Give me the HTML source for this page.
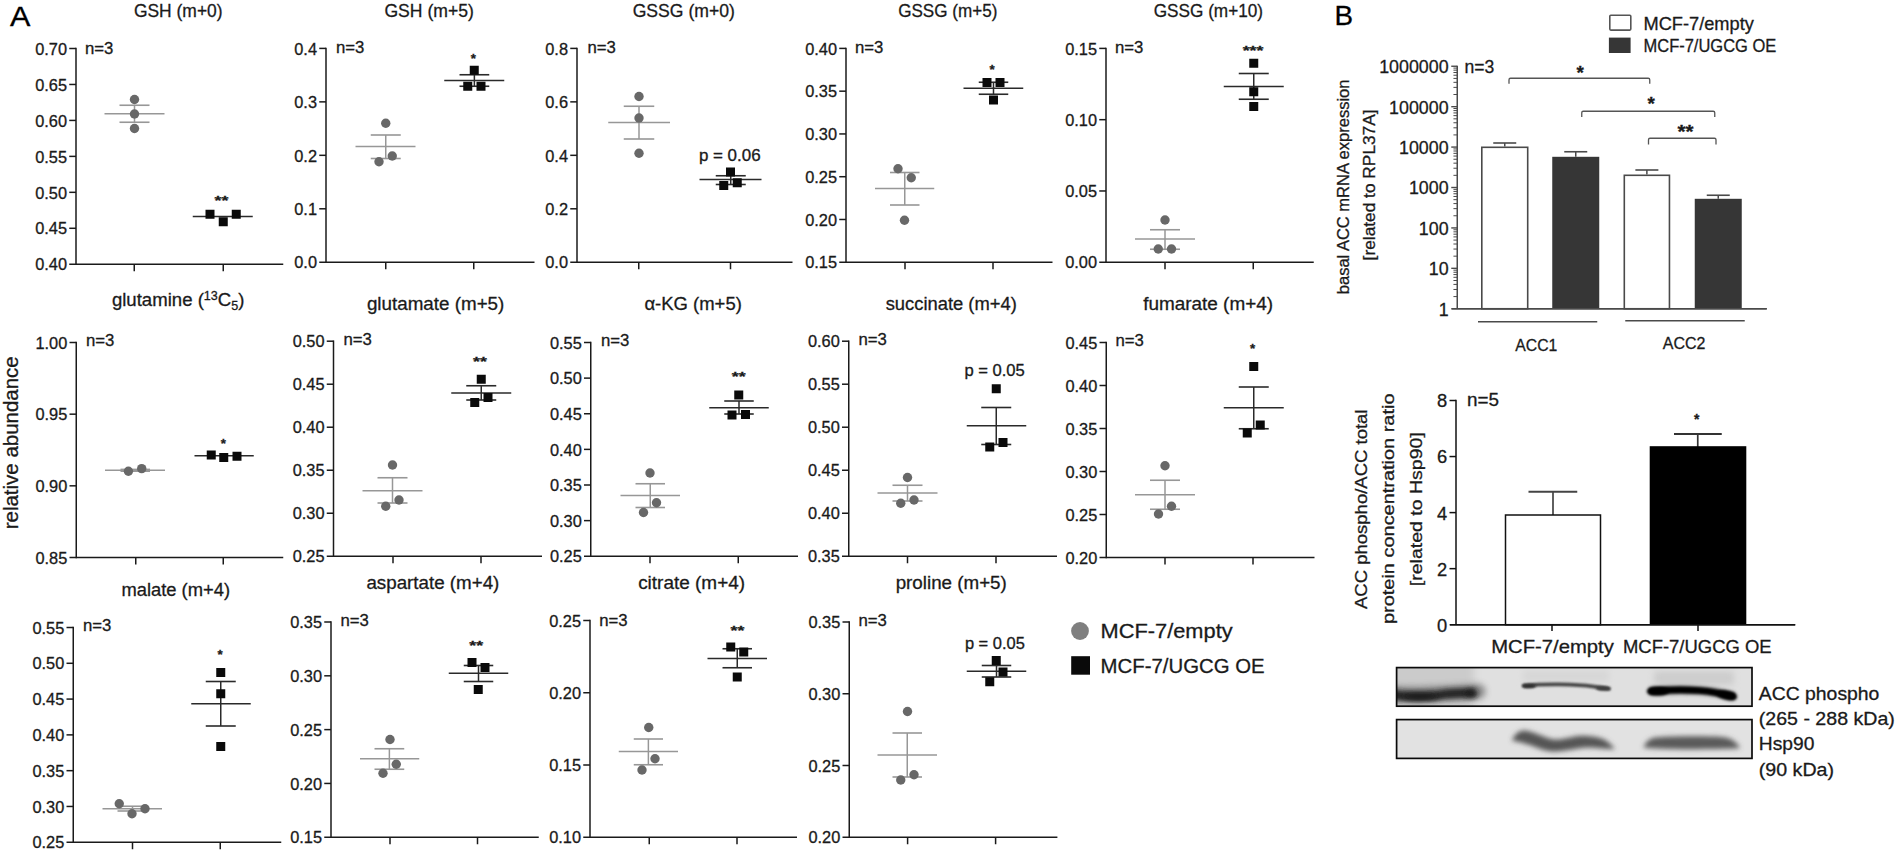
<!DOCTYPE html>
<html lang="en"><head><meta charset="utf-8"><title>Figure</title>
<style>html,body{margin:0;padding:0;background:#fff;}body{width:1895px;height:850px;overflow:hidden;}svg{display:block;}</style>
</head><body>
<svg width="1895" height="850" viewBox="0 0 1895 850" font-family='"Liberation Sans", Arial, sans-serif' shape-rendering="geometricPrecision">
<defs><filter id="b1" filterUnits="userSpaceOnUse" x="1370" y="640" width="410" height="140"><feGaussianBlur stdDeviation="1.6"/></filter><filter id="b2" filterUnits="userSpaceOnUse" x="1370" y="640" width="410" height="140"><feGaussianBlur stdDeviation="2.4"/></filter><filter id="b3" filterUnits="userSpaceOnUse" x="1370" y="640" width="410" height="140"><feGaussianBlur stdDeviation="3.2"/></filter><filter id="b4" filterUnits="userSpaceOnUse" x="1370" y="640" width="410" height="140"><feGaussianBlur stdDeviation="4.5"/></filter><filter id="b0" filterUnits="userSpaceOnUse" x="1370" y="640" width="410" height="140"><feGaussianBlur stdDeviation="1.0"/></filter><clipPath id="c1"><rect x="1396.6" y="667.6" width="355.4" height="38.6"/></clipPath><clipPath id="c2"><rect x="1396.6" y="719.6" width="355.4" height="38.8"/></clipPath></defs>
<rect width="1895" height="850" fill="#fff"/>
<text x="9.90" y="25.80" font-size="27.31" text-anchor="start" fill="#000" textLength="20.40" lengthAdjust="spacingAndGlyphs" stroke="#000" stroke-width="0.3">A</text>
<text x="1334.60" y="25.10" font-size="27.31" text-anchor="start" fill="#000" textLength="18.60" lengthAdjust="spacingAndGlyphs" stroke="#000" stroke-width="0.3">B</text>
<line x1="76.00" y1="47.75" x2="76.00" y2="265.00" stroke="#1a1a1a" stroke-width="1.5"/>
<line x1="69.25" y1="264.25" x2="283.25" y2="264.25" stroke="#1a1a1a" stroke-width="1.5"/>
<line x1="69.25" y1="48.50" x2="76.00" y2="48.50" stroke="#1a1a1a" stroke-width="1.5"/>
<text x="67.00" y="54.70" font-size="15.98" text-anchor="end" fill="#1a1a1a" textLength="31.85" lengthAdjust="spacingAndGlyphs" stroke="#1a1a1a" stroke-width="0.3">0.70</text>
<line x1="69.25" y1="84.46" x2="76.00" y2="84.46" stroke="#1a1a1a" stroke-width="1.5"/>
<text x="67.00" y="90.66" font-size="15.98" text-anchor="end" fill="#1a1a1a" textLength="31.85" lengthAdjust="spacingAndGlyphs" stroke="#1a1a1a" stroke-width="0.3">0.65</text>
<line x1="69.25" y1="120.42" x2="76.00" y2="120.42" stroke="#1a1a1a" stroke-width="1.5"/>
<text x="67.00" y="126.62" font-size="15.98" text-anchor="end" fill="#1a1a1a" textLength="31.85" lengthAdjust="spacingAndGlyphs" stroke="#1a1a1a" stroke-width="0.3">0.60</text>
<line x1="69.25" y1="156.38" x2="76.00" y2="156.38" stroke="#1a1a1a" stroke-width="1.5"/>
<text x="67.00" y="162.57" font-size="15.98" text-anchor="end" fill="#1a1a1a" textLength="31.85" lengthAdjust="spacingAndGlyphs" stroke="#1a1a1a" stroke-width="0.3">0.55</text>
<line x1="69.25" y1="192.33" x2="76.00" y2="192.33" stroke="#1a1a1a" stroke-width="1.5"/>
<text x="67.00" y="198.53" font-size="15.98" text-anchor="end" fill="#1a1a1a" textLength="31.85" lengthAdjust="spacingAndGlyphs" stroke="#1a1a1a" stroke-width="0.3">0.50</text>
<line x1="69.25" y1="228.29" x2="76.00" y2="228.29" stroke="#1a1a1a" stroke-width="1.5"/>
<text x="67.00" y="234.49" font-size="15.98" text-anchor="end" fill="#1a1a1a" textLength="31.85" lengthAdjust="spacingAndGlyphs" stroke="#1a1a1a" stroke-width="0.3">0.45</text>
<text x="67.00" y="270.45" font-size="15.98" text-anchor="end" fill="#1a1a1a" textLength="31.85" lengthAdjust="spacingAndGlyphs" stroke="#1a1a1a" stroke-width="0.3">0.40</text>
<line x1="134.25" y1="264.25" x2="134.25" y2="271.25" stroke="#1a1a1a" stroke-width="1.5"/>
<line x1="223.25" y1="264.25" x2="223.25" y2="271.25" stroke="#1a1a1a" stroke-width="1.5"/>
<text x="133.90" y="17.00" font-size="18.87" text-anchor="start" fill="#1a1a1a" textLength="88.70" lengthAdjust="spacingAndGlyphs" stroke="#1a1a1a" stroke-width="0.3">GSH (m+0)</text>
<text x="84.95" y="54.35" font-size="16.54" text-anchor="start" fill="#1a1a1a" textLength="28.40" lengthAdjust="spacingAndGlyphs" stroke="#1a1a1a" stroke-width="0.3">n=3</text>
<line x1="119.50" y1="105.25" x2="149.50" y2="105.25" stroke="#979797" stroke-width="1.6"/>
<line x1="119.50" y1="122.25" x2="149.50" y2="122.25" stroke="#979797" stroke-width="1.6"/>
<line x1="134.50" y1="105.25" x2="134.50" y2="122.25" stroke="#979797" stroke-width="1.5"/>
<line x1="104.50" y1="113.75" x2="164.50" y2="113.75" stroke="#979797" stroke-width="1.7"/>
<circle cx="134.50" cy="99.50" r="4.7" fill="#686868"/>
<circle cx="134.50" cy="114.00" r="4.7" fill="#686868"/>
<circle cx="134.50" cy="128.50" r="4.7" fill="#686868"/>
<line x1="192.75" y1="216.50" x2="252.75" y2="216.50" stroke="#2a2a2a" stroke-width="1.7"/>
<rect x="205.50" y="209.75" width="9" height="9" fill="#0a0a0a"/>
<rect x="231.75" y="209.75" width="9" height="9" fill="#0a0a0a"/>
<rect x="218.75" y="217.25" width="9" height="9" fill="#0a0a0a"/>
<text x="221.50" y="205.05" font-size="13.32" text-anchor="middle" fill="#1a1a1a" textLength="13.80" lengthAdjust="spacingAndGlyphs" font-weight="bold" stroke="#1a1a1a" stroke-width="0.3">**</text>
<line x1="326.00" y1="47.65" x2="326.00" y2="263.00" stroke="#1a1a1a" stroke-width="1.5"/>
<line x1="319.25" y1="262.25" x2="534.50" y2="262.25" stroke="#1a1a1a" stroke-width="1.5"/>
<line x1="319.25" y1="48.40" x2="326.00" y2="48.40" stroke="#1a1a1a" stroke-width="1.5"/>
<text x="317.00" y="54.60" font-size="15.98" text-anchor="end" fill="#1a1a1a" textLength="22.75" lengthAdjust="spacingAndGlyphs" stroke="#1a1a1a" stroke-width="0.3">0.4</text>
<line x1="319.25" y1="101.86" x2="326.00" y2="101.86" stroke="#1a1a1a" stroke-width="1.5"/>
<text x="317.00" y="108.06" font-size="15.98" text-anchor="end" fill="#1a1a1a" textLength="22.75" lengthAdjust="spacingAndGlyphs" stroke="#1a1a1a" stroke-width="0.3">0.3</text>
<line x1="319.25" y1="155.32" x2="326.00" y2="155.32" stroke="#1a1a1a" stroke-width="1.5"/>
<text x="317.00" y="161.52" font-size="15.98" text-anchor="end" fill="#1a1a1a" textLength="22.75" lengthAdjust="spacingAndGlyphs" stroke="#1a1a1a" stroke-width="0.3">0.2</text>
<line x1="319.25" y1="208.79" x2="326.00" y2="208.79" stroke="#1a1a1a" stroke-width="1.5"/>
<text x="317.00" y="214.99" font-size="15.98" text-anchor="end" fill="#1a1a1a" textLength="22.75" lengthAdjust="spacingAndGlyphs" stroke="#1a1a1a" stroke-width="0.3">0.1</text>
<text x="317.00" y="268.45" font-size="15.98" text-anchor="end" fill="#1a1a1a" textLength="22.75" lengthAdjust="spacingAndGlyphs" stroke="#1a1a1a" stroke-width="0.3">0.0</text>
<line x1="385.75" y1="262.25" x2="385.75" y2="269.25" stroke="#1a1a1a" stroke-width="1.5"/>
<line x1="473.75" y1="262.25" x2="473.75" y2="269.25" stroke="#1a1a1a" stroke-width="1.5"/>
<text x="384.40" y="17.00" font-size="18.87" text-anchor="start" fill="#1a1a1a" textLength="89.45" lengthAdjust="spacingAndGlyphs" stroke="#1a1a1a" stroke-width="0.3">GSH (m+5)</text>
<text x="335.95" y="53.10" font-size="16.54" text-anchor="start" fill="#1a1a1a" textLength="28.40" lengthAdjust="spacingAndGlyphs" stroke="#1a1a1a" stroke-width="0.3">n=3</text>
<line x1="370.75" y1="135.00" x2="400.75" y2="135.00" stroke="#979797" stroke-width="1.6"/>
<line x1="370.75" y1="158.50" x2="400.75" y2="158.50" stroke="#979797" stroke-width="1.6"/>
<line x1="385.75" y1="135.00" x2="385.75" y2="158.50" stroke="#979797" stroke-width="1.5"/>
<line x1="355.50" y1="146.50" x2="415.50" y2="146.50" stroke="#979797" stroke-width="1.7"/>
<circle cx="385.75" cy="123.25" r="4.7" fill="#686868"/>
<circle cx="392.25" cy="156.00" r="4.7" fill="#686868"/>
<circle cx="379.00" cy="161.75" r="4.7" fill="#686868"/>
<line x1="459.50" y1="74.75" x2="489.25" y2="74.75" stroke="#2a2a2a" stroke-width="1.6"/>
<line x1="459.50" y1="86.25" x2="489.25" y2="86.25" stroke="#2a2a2a" stroke-width="1.6"/>
<line x1="474.38" y1="74.75" x2="474.38" y2="86.25" stroke="#2a2a2a" stroke-width="1.5"/>
<line x1="444.25" y1="80.50" x2="504.25" y2="80.50" stroke="#2a2a2a" stroke-width="1.7"/>
<rect x="469.75" y="65.75" width="9" height="9" fill="#0a0a0a"/>
<rect x="463.25" y="81.75" width="9" height="9" fill="#0a0a0a"/>
<rect x="476.50" y="81.75" width="9" height="9" fill="#0a0a0a"/>
<text x="473.25" y="62.55" font-size="13.32" text-anchor="middle" fill="#1a1a1a" font-weight="bold" stroke="#1a1a1a" stroke-width="0.3">*</text>
<line x1="577.00" y1="47.65" x2="577.00" y2="263.00" stroke="#1a1a1a" stroke-width="1.5"/>
<line x1="570.25" y1="262.25" x2="792.50" y2="262.25" stroke="#1a1a1a" stroke-width="1.5"/>
<line x1="570.25" y1="48.40" x2="577.00" y2="48.40" stroke="#1a1a1a" stroke-width="1.5"/>
<text x="568.00" y="54.60" font-size="15.98" text-anchor="end" fill="#1a1a1a" textLength="22.75" lengthAdjust="spacingAndGlyphs" stroke="#1a1a1a" stroke-width="0.3">0.8</text>
<line x1="570.25" y1="101.86" x2="577.00" y2="101.86" stroke="#1a1a1a" stroke-width="1.5"/>
<text x="568.00" y="108.06" font-size="15.98" text-anchor="end" fill="#1a1a1a" textLength="22.75" lengthAdjust="spacingAndGlyphs" stroke="#1a1a1a" stroke-width="0.3">0.6</text>
<line x1="570.25" y1="155.32" x2="577.00" y2="155.32" stroke="#1a1a1a" stroke-width="1.5"/>
<text x="568.00" y="161.52" font-size="15.98" text-anchor="end" fill="#1a1a1a" textLength="22.75" lengthAdjust="spacingAndGlyphs" stroke="#1a1a1a" stroke-width="0.3">0.4</text>
<line x1="570.25" y1="208.79" x2="577.00" y2="208.79" stroke="#1a1a1a" stroke-width="1.5"/>
<text x="568.00" y="214.99" font-size="15.98" text-anchor="end" fill="#1a1a1a" textLength="22.75" lengthAdjust="spacingAndGlyphs" stroke="#1a1a1a" stroke-width="0.3">0.2</text>
<text x="568.00" y="268.45" font-size="15.98" text-anchor="end" fill="#1a1a1a" textLength="22.75" lengthAdjust="spacingAndGlyphs" stroke="#1a1a1a" stroke-width="0.3">0.0</text>
<line x1="638.75" y1="262.25" x2="638.75" y2="269.25" stroke="#1a1a1a" stroke-width="1.5"/>
<line x1="730.50" y1="262.25" x2="730.50" y2="269.25" stroke="#1a1a1a" stroke-width="1.5"/>
<text x="632.65" y="17.00" font-size="18.87" text-anchor="start" fill="#1a1a1a" textLength="102.20" lengthAdjust="spacingAndGlyphs" stroke="#1a1a1a" stroke-width="0.3">GSSG (m+0)</text>
<text x="587.45" y="53.10" font-size="16.54" text-anchor="start" fill="#1a1a1a" textLength="28.40" lengthAdjust="spacingAndGlyphs" stroke="#1a1a1a" stroke-width="0.3">n=3</text>
<line x1="623.75" y1="106.25" x2="654.25" y2="106.25" stroke="#979797" stroke-width="1.6"/>
<line x1="623.75" y1="139.00" x2="654.25" y2="139.00" stroke="#979797" stroke-width="1.6"/>
<line x1="639.00" y1="106.25" x2="639.00" y2="139.00" stroke="#979797" stroke-width="1.5"/>
<line x1="608.25" y1="122.50" x2="670.00" y2="122.50" stroke="#979797" stroke-width="1.7"/>
<circle cx="639.00" cy="96.50" r="4.7" fill="#686868"/>
<circle cx="639.00" cy="118.00" r="4.7" fill="#686868"/>
<circle cx="639.00" cy="153.25" r="4.7" fill="#686868"/>
<line x1="715.75" y1="175.75" x2="745.75" y2="175.75" stroke="#2a2a2a" stroke-width="1.6"/>
<line x1="715.75" y1="184.50" x2="745.75" y2="184.50" stroke="#2a2a2a" stroke-width="1.6"/>
<line x1="730.75" y1="175.75" x2="730.75" y2="184.50" stroke="#2a2a2a" stroke-width="1.5"/>
<line x1="699.50" y1="179.50" x2="761.50" y2="179.50" stroke="#2a2a2a" stroke-width="1.7"/>
<rect x="726.00" y="167.50" width="9" height="9" fill="#0a0a0a"/>
<rect x="719.25" y="181.00" width="9" height="9" fill="#0a0a0a"/>
<rect x="732.75" y="178.25" width="9" height="9" fill="#0a0a0a"/>
<text x="698.90" y="161.25" font-size="16.1" text-anchor="start" fill="#1a1a1a" textLength="61.70" lengthAdjust="spacingAndGlyphs" stroke="#1a1a1a" stroke-width="0.3">p = 0.06</text>
<line x1="846.00" y1="47.65" x2="846.00" y2="263.00" stroke="#1a1a1a" stroke-width="1.5"/>
<line x1="839.25" y1="262.25" x2="1052.50" y2="262.25" stroke="#1a1a1a" stroke-width="1.5"/>
<line x1="839.25" y1="48.40" x2="846.00" y2="48.40" stroke="#1a1a1a" stroke-width="1.5"/>
<text x="837.00" y="54.60" font-size="15.98" text-anchor="end" fill="#1a1a1a" textLength="31.85" lengthAdjust="spacingAndGlyphs" stroke="#1a1a1a" stroke-width="0.3">0.40</text>
<line x1="839.25" y1="91.17" x2="846.00" y2="91.17" stroke="#1a1a1a" stroke-width="1.5"/>
<text x="837.00" y="97.37" font-size="15.98" text-anchor="end" fill="#1a1a1a" textLength="31.85" lengthAdjust="spacingAndGlyphs" stroke="#1a1a1a" stroke-width="0.3">0.35</text>
<line x1="839.25" y1="133.94" x2="846.00" y2="133.94" stroke="#1a1a1a" stroke-width="1.5"/>
<text x="837.00" y="140.14" font-size="15.98" text-anchor="end" fill="#1a1a1a" textLength="31.85" lengthAdjust="spacingAndGlyphs" stroke="#1a1a1a" stroke-width="0.3">0.30</text>
<line x1="839.25" y1="176.71" x2="846.00" y2="176.71" stroke="#1a1a1a" stroke-width="1.5"/>
<text x="837.00" y="182.91" font-size="15.98" text-anchor="end" fill="#1a1a1a" textLength="31.85" lengthAdjust="spacingAndGlyphs" stroke="#1a1a1a" stroke-width="0.3">0.25</text>
<line x1="839.25" y1="219.48" x2="846.00" y2="219.48" stroke="#1a1a1a" stroke-width="1.5"/>
<text x="837.00" y="225.68" font-size="15.98" text-anchor="end" fill="#1a1a1a" textLength="31.85" lengthAdjust="spacingAndGlyphs" stroke="#1a1a1a" stroke-width="0.3">0.20</text>
<text x="837.00" y="268.45" font-size="15.98" text-anchor="end" fill="#1a1a1a" textLength="31.85" lengthAdjust="spacingAndGlyphs" stroke="#1a1a1a" stroke-width="0.3">0.15</text>
<line x1="905.00" y1="262.25" x2="905.00" y2="269.25" stroke="#1a1a1a" stroke-width="1.5"/>
<line x1="993.00" y1="262.25" x2="993.00" y2="269.25" stroke="#1a1a1a" stroke-width="1.5"/>
<text x="898.15" y="17.00" font-size="18.87" text-anchor="start" fill="#1a1a1a" textLength="99.20" lengthAdjust="spacingAndGlyphs" stroke="#1a1a1a" stroke-width="0.3">GSSG (m+5)</text>
<text x="854.95" y="53.10" font-size="16.54" text-anchor="start" fill="#1a1a1a" textLength="28.40" lengthAdjust="spacingAndGlyphs" stroke="#1a1a1a" stroke-width="0.3">n=3</text>
<line x1="890.00" y1="172.50" x2="919.50" y2="172.50" stroke="#979797" stroke-width="1.6"/>
<line x1="890.00" y1="205.00" x2="919.50" y2="205.00" stroke="#979797" stroke-width="1.6"/>
<line x1="904.75" y1="172.50" x2="904.75" y2="205.00" stroke="#979797" stroke-width="1.5"/>
<line x1="875.00" y1="188.50" x2="934.25" y2="188.50" stroke="#979797" stroke-width="1.7"/>
<circle cx="898.00" cy="168.75" r="4.7" fill="#686868"/>
<circle cx="911.25" cy="177.75" r="4.7" fill="#686868"/>
<circle cx="904.50" cy="220.25" r="4.7" fill="#686868"/>
<line x1="978.75" y1="82.25" x2="1008.25" y2="82.25" stroke="#2a2a2a" stroke-width="1.6"/>
<line x1="978.75" y1="94.25" x2="1008.25" y2="94.25" stroke="#2a2a2a" stroke-width="1.6"/>
<line x1="993.50" y1="82.25" x2="993.50" y2="94.25" stroke="#2a2a2a" stroke-width="1.5"/>
<line x1="963.50" y1="88.25" x2="1023.25" y2="88.25" stroke="#2a2a2a" stroke-width="1.7"/>
<rect x="982.50" y="78.00" width="9" height="9" fill="#0a0a0a"/>
<rect x="995.50" y="78.00" width="9" height="9" fill="#0a0a0a"/>
<rect x="989.00" y="95.50" width="9" height="9" fill="#0a0a0a"/>
<text x="992.00" y="73.80" font-size="13.32" text-anchor="middle" fill="#1a1a1a" font-weight="bold" stroke="#1a1a1a" stroke-width="0.3">*</text>
<line x1="1106.00" y1="47.65" x2="1106.00" y2="263.00" stroke="#1a1a1a" stroke-width="1.5"/>
<line x1="1099.25" y1="262.25" x2="1313.75" y2="262.25" stroke="#1a1a1a" stroke-width="1.5"/>
<line x1="1099.25" y1="48.40" x2="1106.00" y2="48.40" stroke="#1a1a1a" stroke-width="1.5"/>
<text x="1097.00" y="54.60" font-size="15.98" text-anchor="end" fill="#1a1a1a" textLength="31.85" lengthAdjust="spacingAndGlyphs" stroke="#1a1a1a" stroke-width="0.3">0.15</text>
<line x1="1099.25" y1="119.68" x2="1106.00" y2="119.68" stroke="#1a1a1a" stroke-width="1.5"/>
<text x="1097.00" y="125.88" font-size="15.98" text-anchor="end" fill="#1a1a1a" textLength="31.85" lengthAdjust="spacingAndGlyphs" stroke="#1a1a1a" stroke-width="0.3">0.10</text>
<line x1="1099.25" y1="190.97" x2="1106.00" y2="190.97" stroke="#1a1a1a" stroke-width="1.5"/>
<text x="1097.00" y="197.17" font-size="15.98" text-anchor="end" fill="#1a1a1a" textLength="31.85" lengthAdjust="spacingAndGlyphs" stroke="#1a1a1a" stroke-width="0.3">0.05</text>
<text x="1097.00" y="268.45" font-size="15.98" text-anchor="end" fill="#1a1a1a" textLength="31.85" lengthAdjust="spacingAndGlyphs" stroke="#1a1a1a" stroke-width="0.3">0.00</text>
<line x1="1165.00" y1="262.25" x2="1165.00" y2="269.25" stroke="#1a1a1a" stroke-width="1.5"/>
<line x1="1253.25" y1="262.25" x2="1253.25" y2="269.25" stroke="#1a1a1a" stroke-width="1.5"/>
<text x="1153.65" y="17.00" font-size="18.87" text-anchor="start" fill="#1a1a1a" textLength="109.45" lengthAdjust="spacingAndGlyphs" stroke="#1a1a1a" stroke-width="0.3">GSSG (m+10)</text>
<text x="1114.95" y="53.10" font-size="16.54" text-anchor="start" fill="#1a1a1a" textLength="28.40" lengthAdjust="spacingAndGlyphs" stroke="#1a1a1a" stroke-width="0.3">n=3</text>
<line x1="1150.00" y1="229.75" x2="1180.00" y2="229.75" stroke="#979797" stroke-width="1.6"/>
<line x1="1150.00" y1="249.25" x2="1180.00" y2="249.25" stroke="#979797" stroke-width="1.6"/>
<line x1="1165.00" y1="229.75" x2="1165.00" y2="249.25" stroke="#979797" stroke-width="1.5"/>
<line x1="1135.00" y1="239.00" x2="1195.00" y2="239.00" stroke="#979797" stroke-width="1.7"/>
<circle cx="1165.00" cy="220.00" r="4.7" fill="#686868"/>
<circle cx="1158.25" cy="249.00" r="4.7" fill="#686868"/>
<circle cx="1171.50" cy="249.00" r="4.7" fill="#686868"/>
<line x1="1238.75" y1="73.50" x2="1268.75" y2="73.50" stroke="#2a2a2a" stroke-width="1.6"/>
<line x1="1238.75" y1="99.25" x2="1268.75" y2="99.25" stroke="#2a2a2a" stroke-width="1.6"/>
<line x1="1253.75" y1="73.50" x2="1253.75" y2="99.25" stroke="#2a2a2a" stroke-width="1.5"/>
<line x1="1223.75" y1="86.50" x2="1283.75" y2="86.50" stroke="#2a2a2a" stroke-width="1.7"/>
<rect x="1249.25" y="58.75" width="9" height="9" fill="#0a0a0a"/>
<rect x="1249.25" y="87.25" width="9" height="9" fill="#0a0a0a"/>
<rect x="1249.25" y="102.00" width="9" height="9" fill="#0a0a0a"/>
<text x="1253.00" y="54.55" font-size="13.32" text-anchor="middle" fill="#1a1a1a" textLength="20.70" lengthAdjust="spacingAndGlyphs" font-weight="bold" stroke="#1a1a1a" stroke-width="0.3">***</text>
<line x1="76.25" y1="341.75" x2="76.25" y2="558.25" stroke="#1a1a1a" stroke-width="1.5"/>
<line x1="69.50" y1="557.50" x2="283.25" y2="557.50" stroke="#1a1a1a" stroke-width="1.5"/>
<line x1="69.50" y1="342.50" x2="76.25" y2="342.50" stroke="#1a1a1a" stroke-width="1.5"/>
<text x="67.25" y="348.70" font-size="15.98" text-anchor="end" fill="#1a1a1a" textLength="31.85" lengthAdjust="spacingAndGlyphs" stroke="#1a1a1a" stroke-width="0.3">1.00</text>
<line x1="69.50" y1="414.17" x2="76.25" y2="414.17" stroke="#1a1a1a" stroke-width="1.5"/>
<text x="67.25" y="420.37" font-size="15.98" text-anchor="end" fill="#1a1a1a" textLength="31.85" lengthAdjust="spacingAndGlyphs" stroke="#1a1a1a" stroke-width="0.3">0.95</text>
<line x1="69.50" y1="485.83" x2="76.25" y2="485.83" stroke="#1a1a1a" stroke-width="1.5"/>
<text x="67.25" y="492.03" font-size="15.98" text-anchor="end" fill="#1a1a1a" textLength="31.85" lengthAdjust="spacingAndGlyphs" stroke="#1a1a1a" stroke-width="0.3">0.90</text>
<text x="67.25" y="563.70" font-size="15.98" text-anchor="end" fill="#1a1a1a" textLength="31.85" lengthAdjust="spacingAndGlyphs" stroke="#1a1a1a" stroke-width="0.3">0.85</text>
<line x1="135.75" y1="557.50" x2="135.75" y2="564.50" stroke="#1a1a1a" stroke-width="1.5"/>
<line x1="223.25" y1="557.50" x2="223.25" y2="564.50" stroke="#1a1a1a" stroke-width="1.5"/>
<text x="-0.60" y="0.00" font-size="18.87" text-anchor="start" fill="#1a1a1a" textLength="1.20" lengthAdjust="spacingAndGlyphs" stroke="#1a1a1a" stroke-width="0.3"></text>
<text x="85.95" y="345.60" font-size="16.54" text-anchor="start" fill="#1a1a1a" textLength="28.40" lengthAdjust="spacingAndGlyphs" stroke="#1a1a1a" stroke-width="0.3">n=3</text>
<line x1="120.50" y1="469.40" x2="150.00" y2="469.40" stroke="#979797" stroke-width="1.6"/>
<line x1="120.50" y1="471.20" x2="150.00" y2="471.20" stroke="#979797" stroke-width="1.6"/>
<line x1="135.25" y1="469.40" x2="135.25" y2="471.20" stroke="#979797" stroke-width="1.5"/>
<line x1="105.00" y1="470.25" x2="165.00" y2="470.25" stroke="#979797" stroke-width="1.7"/>
<circle cx="128.40" cy="471.20" r="4.7" fill="#686868"/>
<circle cx="141.70" cy="468.60" r="4.7" fill="#686868"/>
<line x1="194.50" y1="455.75" x2="253.75" y2="455.75" stroke="#2a2a2a" stroke-width="1.7"/>
<rect x="206.75" y="450.50" width="9" height="9" fill="#0a0a0a"/>
<rect x="219.25" y="453.00" width="9" height="9" fill="#0a0a0a"/>
<rect x="232.50" y="451.75" width="9" height="9" fill="#0a0a0a"/>
<text x="223.25" y="447.55" font-size="13.32" text-anchor="middle" fill="#1a1a1a" font-weight="bold" stroke="#1a1a1a" stroke-width="0.3">*</text>
<line x1="333.50" y1="340.45" x2="333.50" y2="557.00" stroke="#1a1a1a" stroke-width="1.5"/>
<line x1="326.75" y1="556.25" x2="542.00" y2="556.25" stroke="#1a1a1a" stroke-width="1.5"/>
<line x1="326.75" y1="341.20" x2="333.50" y2="341.20" stroke="#1a1a1a" stroke-width="1.5"/>
<text x="324.50" y="347.40" font-size="15.98" text-anchor="end" fill="#1a1a1a" textLength="31.85" lengthAdjust="spacingAndGlyphs" stroke="#1a1a1a" stroke-width="0.3">0.50</text>
<line x1="326.75" y1="384.21" x2="333.50" y2="384.21" stroke="#1a1a1a" stroke-width="1.5"/>
<text x="324.50" y="390.41" font-size="15.98" text-anchor="end" fill="#1a1a1a" textLength="31.85" lengthAdjust="spacingAndGlyphs" stroke="#1a1a1a" stroke-width="0.3">0.45</text>
<line x1="326.75" y1="427.22" x2="333.50" y2="427.22" stroke="#1a1a1a" stroke-width="1.5"/>
<text x="324.50" y="433.42" font-size="15.98" text-anchor="end" fill="#1a1a1a" textLength="31.85" lengthAdjust="spacingAndGlyphs" stroke="#1a1a1a" stroke-width="0.3">0.40</text>
<line x1="326.75" y1="470.23" x2="333.50" y2="470.23" stroke="#1a1a1a" stroke-width="1.5"/>
<text x="324.50" y="476.43" font-size="15.98" text-anchor="end" fill="#1a1a1a" textLength="31.85" lengthAdjust="spacingAndGlyphs" stroke="#1a1a1a" stroke-width="0.3">0.35</text>
<line x1="326.75" y1="513.24" x2="333.50" y2="513.24" stroke="#1a1a1a" stroke-width="1.5"/>
<text x="324.50" y="519.44" font-size="15.98" text-anchor="end" fill="#1a1a1a" textLength="31.85" lengthAdjust="spacingAndGlyphs" stroke="#1a1a1a" stroke-width="0.3">0.30</text>
<text x="324.50" y="562.45" font-size="15.98" text-anchor="end" fill="#1a1a1a" textLength="31.85" lengthAdjust="spacingAndGlyphs" stroke="#1a1a1a" stroke-width="0.3">0.25</text>
<line x1="393.00" y1="556.25" x2="393.00" y2="563.25" stroke="#1a1a1a" stroke-width="1.5"/>
<line x1="481.00" y1="556.25" x2="481.00" y2="563.25" stroke="#1a1a1a" stroke-width="1.5"/>
<text x="366.90" y="310.00" font-size="18.87" text-anchor="start" fill="#1a1a1a" textLength="137.45" lengthAdjust="spacingAndGlyphs" stroke="#1a1a1a" stroke-width="0.3">glutamate (m+5)</text>
<text x="343.45" y="345.10" font-size="16.54" text-anchor="start" fill="#1a1a1a" textLength="28.40" lengthAdjust="spacingAndGlyphs" stroke="#1a1a1a" stroke-width="0.3">n=3</text>
<line x1="377.50" y1="477.75" x2="407.50" y2="477.75" stroke="#979797" stroke-width="1.6"/>
<line x1="377.50" y1="503.00" x2="407.50" y2="503.00" stroke="#979797" stroke-width="1.6"/>
<line x1="392.50" y1="477.75" x2="392.50" y2="503.00" stroke="#979797" stroke-width="1.5"/>
<line x1="362.50" y1="490.75" x2="422.50" y2="490.75" stroke="#979797" stroke-width="1.7"/>
<circle cx="392.50" cy="465.00" r="4.7" fill="#686868"/>
<circle cx="399.00" cy="500.00" r="4.7" fill="#686868"/>
<circle cx="385.75" cy="506.25" r="4.7" fill="#686868"/>
<line x1="466.25" y1="385.75" x2="496.25" y2="385.75" stroke="#2a2a2a" stroke-width="1.6"/>
<line x1="466.25" y1="400.00" x2="496.25" y2="400.00" stroke="#2a2a2a" stroke-width="1.6"/>
<line x1="481.25" y1="385.75" x2="481.25" y2="400.00" stroke="#2a2a2a" stroke-width="1.5"/>
<line x1="451.25" y1="393.00" x2="511.25" y2="393.00" stroke="#2a2a2a" stroke-width="1.7"/>
<rect x="476.75" y="374.75" width="9" height="9" fill="#0a0a0a"/>
<rect x="483.50" y="393.00" width="9" height="9" fill="#0a0a0a"/>
<rect x="470.25" y="398.00" width="9" height="9" fill="#0a0a0a"/>
<text x="480.00" y="365.80" font-size="13.32" text-anchor="middle" fill="#1a1a1a" textLength="13.80" lengthAdjust="spacingAndGlyphs" font-weight="bold" stroke="#1a1a1a" stroke-width="0.3">**</text>
<line x1="590.75" y1="341.75" x2="590.75" y2="557.00" stroke="#1a1a1a" stroke-width="1.5"/>
<line x1="584.00" y1="556.25" x2="798.00" y2="556.25" stroke="#1a1a1a" stroke-width="1.5"/>
<line x1="584.00" y1="342.50" x2="590.75" y2="342.50" stroke="#1a1a1a" stroke-width="1.5"/>
<text x="581.75" y="348.70" font-size="15.98" text-anchor="end" fill="#1a1a1a" textLength="31.85" lengthAdjust="spacingAndGlyphs" stroke="#1a1a1a" stroke-width="0.3">0.55</text>
<line x1="584.00" y1="378.12" x2="590.75" y2="378.12" stroke="#1a1a1a" stroke-width="1.5"/>
<text x="581.75" y="384.32" font-size="15.98" text-anchor="end" fill="#1a1a1a" textLength="31.85" lengthAdjust="spacingAndGlyphs" stroke="#1a1a1a" stroke-width="0.3">0.50</text>
<line x1="584.00" y1="413.75" x2="590.75" y2="413.75" stroke="#1a1a1a" stroke-width="1.5"/>
<text x="581.75" y="419.95" font-size="15.98" text-anchor="end" fill="#1a1a1a" textLength="31.85" lengthAdjust="spacingAndGlyphs" stroke="#1a1a1a" stroke-width="0.3">0.45</text>
<line x1="584.00" y1="449.38" x2="590.75" y2="449.38" stroke="#1a1a1a" stroke-width="1.5"/>
<text x="581.75" y="455.57" font-size="15.98" text-anchor="end" fill="#1a1a1a" textLength="31.85" lengthAdjust="spacingAndGlyphs" stroke="#1a1a1a" stroke-width="0.3">0.40</text>
<line x1="584.00" y1="485.00" x2="590.75" y2="485.00" stroke="#1a1a1a" stroke-width="1.5"/>
<text x="581.75" y="491.20" font-size="15.98" text-anchor="end" fill="#1a1a1a" textLength="31.85" lengthAdjust="spacingAndGlyphs" stroke="#1a1a1a" stroke-width="0.3">0.35</text>
<line x1="584.00" y1="520.62" x2="590.75" y2="520.62" stroke="#1a1a1a" stroke-width="1.5"/>
<text x="581.75" y="526.83" font-size="15.98" text-anchor="end" fill="#1a1a1a" textLength="31.85" lengthAdjust="spacingAndGlyphs" stroke="#1a1a1a" stroke-width="0.3">0.30</text>
<text x="581.75" y="562.45" font-size="15.98" text-anchor="end" fill="#1a1a1a" textLength="31.85" lengthAdjust="spacingAndGlyphs" stroke="#1a1a1a" stroke-width="0.3">0.25</text>
<line x1="650.00" y1="556.25" x2="650.00" y2="563.25" stroke="#1a1a1a" stroke-width="1.5"/>
<line x1="738.25" y1="556.25" x2="738.25" y2="563.25" stroke="#1a1a1a" stroke-width="1.5"/>
<text x="644.40" y="310.00" font-size="18.87" text-anchor="start" fill="#1a1a1a" textLength="97.45" lengthAdjust="spacingAndGlyphs" stroke="#1a1a1a" stroke-width="0.3">α-KG (m+5)</text>
<text x="600.95" y="346.10" font-size="16.54" text-anchor="start" fill="#1a1a1a" textLength="28.40" lengthAdjust="spacingAndGlyphs" stroke="#1a1a1a" stroke-width="0.3">n=3</text>
<line x1="635.50" y1="483.75" x2="665.00" y2="483.75" stroke="#979797" stroke-width="1.6"/>
<line x1="635.50" y1="507.50" x2="665.00" y2="507.50" stroke="#979797" stroke-width="1.6"/>
<line x1="650.25" y1="483.75" x2="650.25" y2="507.50" stroke="#979797" stroke-width="1.5"/>
<line x1="620.50" y1="495.50" x2="680.00" y2="495.50" stroke="#979797" stroke-width="1.7"/>
<circle cx="650.00" cy="473.00" r="4.7" fill="#686868"/>
<circle cx="656.50" cy="502.75" r="4.7" fill="#686868"/>
<circle cx="643.50" cy="512.50" r="4.7" fill="#686868"/>
<line x1="724.25" y1="401.00" x2="753.75" y2="401.00" stroke="#2a2a2a" stroke-width="1.6"/>
<line x1="724.25" y1="414.00" x2="753.75" y2="414.00" stroke="#2a2a2a" stroke-width="1.6"/>
<line x1="739.00" y1="401.00" x2="739.00" y2="414.00" stroke="#2a2a2a" stroke-width="1.5"/>
<line x1="709.25" y1="407.75" x2="768.75" y2="407.75" stroke="#2a2a2a" stroke-width="1.7"/>
<rect x="734.25" y="390.50" width="9" height="9" fill="#0a0a0a"/>
<rect x="741.00" y="410.00" width="9" height="9" fill="#0a0a0a"/>
<rect x="727.50" y="410.50" width="9" height="9" fill="#0a0a0a"/>
<text x="738.75" y="381.30" font-size="13.32" text-anchor="middle" fill="#1a1a1a" textLength="13.80" lengthAdjust="spacingAndGlyphs" font-weight="bold" stroke="#1a1a1a" stroke-width="0.3">**</text>
<line x1="848.75" y1="340.45" x2="848.75" y2="557.00" stroke="#1a1a1a" stroke-width="1.5"/>
<line x1="842.00" y1="556.25" x2="1057.00" y2="556.25" stroke="#1a1a1a" stroke-width="1.5"/>
<line x1="842.00" y1="341.20" x2="848.75" y2="341.20" stroke="#1a1a1a" stroke-width="1.5"/>
<text x="839.75" y="347.40" font-size="15.98" text-anchor="end" fill="#1a1a1a" textLength="31.85" lengthAdjust="spacingAndGlyphs" stroke="#1a1a1a" stroke-width="0.3">0.60</text>
<line x1="842.00" y1="384.21" x2="848.75" y2="384.21" stroke="#1a1a1a" stroke-width="1.5"/>
<text x="839.75" y="390.41" font-size="15.98" text-anchor="end" fill="#1a1a1a" textLength="31.85" lengthAdjust="spacingAndGlyphs" stroke="#1a1a1a" stroke-width="0.3">0.55</text>
<line x1="842.00" y1="427.22" x2="848.75" y2="427.22" stroke="#1a1a1a" stroke-width="1.5"/>
<text x="839.75" y="433.42" font-size="15.98" text-anchor="end" fill="#1a1a1a" textLength="31.85" lengthAdjust="spacingAndGlyphs" stroke="#1a1a1a" stroke-width="0.3">0.50</text>
<line x1="842.00" y1="470.23" x2="848.75" y2="470.23" stroke="#1a1a1a" stroke-width="1.5"/>
<text x="839.75" y="476.43" font-size="15.98" text-anchor="end" fill="#1a1a1a" textLength="31.85" lengthAdjust="spacingAndGlyphs" stroke="#1a1a1a" stroke-width="0.3">0.45</text>
<line x1="842.00" y1="513.24" x2="848.75" y2="513.24" stroke="#1a1a1a" stroke-width="1.5"/>
<text x="839.75" y="519.44" font-size="15.98" text-anchor="end" fill="#1a1a1a" textLength="31.85" lengthAdjust="spacingAndGlyphs" stroke="#1a1a1a" stroke-width="0.3">0.40</text>
<text x="839.75" y="562.45" font-size="15.98" text-anchor="end" fill="#1a1a1a" textLength="31.85" lengthAdjust="spacingAndGlyphs" stroke="#1a1a1a" stroke-width="0.3">0.35</text>
<line x1="907.50" y1="556.25" x2="907.50" y2="563.25" stroke="#1a1a1a" stroke-width="1.5"/>
<line x1="996.00" y1="556.25" x2="996.00" y2="563.25" stroke="#1a1a1a" stroke-width="1.5"/>
<text x="885.65" y="310.00" font-size="18.87" text-anchor="start" fill="#1a1a1a" textLength="131.20" lengthAdjust="spacingAndGlyphs" stroke="#1a1a1a" stroke-width="0.3">succinate (m+4)</text>
<text x="858.45" y="345.10" font-size="16.54" text-anchor="start" fill="#1a1a1a" textLength="28.40" lengthAdjust="spacingAndGlyphs" stroke="#1a1a1a" stroke-width="0.3">n=3</text>
<line x1="892.50" y1="485.25" x2="922.50" y2="485.25" stroke="#979797" stroke-width="1.6"/>
<line x1="892.50" y1="501.00" x2="922.50" y2="501.00" stroke="#979797" stroke-width="1.6"/>
<line x1="907.50" y1="485.25" x2="907.50" y2="501.00" stroke="#979797" stroke-width="1.5"/>
<line x1="877.50" y1="493.00" x2="937.50" y2="493.00" stroke="#979797" stroke-width="1.7"/>
<circle cx="907.50" cy="477.50" r="4.7" fill="#686868"/>
<circle cx="914.00" cy="500.00" r="4.7" fill="#686868"/>
<circle cx="900.75" cy="503.25" r="4.7" fill="#686868"/>
<line x1="981.25" y1="407.50" x2="1011.25" y2="407.50" stroke="#2a2a2a" stroke-width="1.6"/>
<line x1="981.25" y1="444.50" x2="1011.25" y2="444.50" stroke="#2a2a2a" stroke-width="1.6"/>
<line x1="996.25" y1="407.50" x2="996.25" y2="444.50" stroke="#2a2a2a" stroke-width="1.5"/>
<line x1="966.75" y1="425.75" x2="1026.25" y2="425.75" stroke="#2a2a2a" stroke-width="1.7"/>
<rect x="991.75" y="384.25" width="9" height="9" fill="#0a0a0a"/>
<rect x="998.50" y="438.00" width="9" height="9" fill="#0a0a0a"/>
<rect x="985.25" y="442.50" width="9" height="9" fill="#0a0a0a"/>
<text x="964.40" y="376.25" font-size="16.1" text-anchor="start" fill="#1a1a1a" textLength="60.45" lengthAdjust="spacingAndGlyphs" stroke="#1a1a1a" stroke-width="0.3">p = 0.05</text>
<line x1="1106.25" y1="341.75" x2="1106.25" y2="558.25" stroke="#1a1a1a" stroke-width="1.5"/>
<line x1="1099.50" y1="557.50" x2="1314.50" y2="557.50" stroke="#1a1a1a" stroke-width="1.5"/>
<line x1="1099.50" y1="342.50" x2="1106.25" y2="342.50" stroke="#1a1a1a" stroke-width="1.5"/>
<text x="1097.25" y="348.70" font-size="15.98" text-anchor="end" fill="#1a1a1a" textLength="31.85" lengthAdjust="spacingAndGlyphs" stroke="#1a1a1a" stroke-width="0.3">0.45</text>
<line x1="1099.50" y1="385.50" x2="1106.25" y2="385.50" stroke="#1a1a1a" stroke-width="1.5"/>
<text x="1097.25" y="391.70" font-size="15.98" text-anchor="end" fill="#1a1a1a" textLength="31.85" lengthAdjust="spacingAndGlyphs" stroke="#1a1a1a" stroke-width="0.3">0.40</text>
<line x1="1099.50" y1="428.50" x2="1106.25" y2="428.50" stroke="#1a1a1a" stroke-width="1.5"/>
<text x="1097.25" y="434.70" font-size="15.98" text-anchor="end" fill="#1a1a1a" textLength="31.85" lengthAdjust="spacingAndGlyphs" stroke="#1a1a1a" stroke-width="0.3">0.35</text>
<line x1="1099.50" y1="471.50" x2="1106.25" y2="471.50" stroke="#1a1a1a" stroke-width="1.5"/>
<text x="1097.25" y="477.70" font-size="15.98" text-anchor="end" fill="#1a1a1a" textLength="31.85" lengthAdjust="spacingAndGlyphs" stroke="#1a1a1a" stroke-width="0.3">0.30</text>
<line x1="1099.50" y1="514.50" x2="1106.25" y2="514.50" stroke="#1a1a1a" stroke-width="1.5"/>
<text x="1097.25" y="520.70" font-size="15.98" text-anchor="end" fill="#1a1a1a" textLength="31.85" lengthAdjust="spacingAndGlyphs" stroke="#1a1a1a" stroke-width="0.3">0.25</text>
<text x="1097.25" y="563.70" font-size="15.98" text-anchor="end" fill="#1a1a1a" textLength="31.85" lengthAdjust="spacingAndGlyphs" stroke="#1a1a1a" stroke-width="0.3">0.20</text>
<line x1="1165.00" y1="557.50" x2="1165.00" y2="564.50" stroke="#1a1a1a" stroke-width="1.5"/>
<line x1="1253.00" y1="557.50" x2="1253.00" y2="564.50" stroke="#1a1a1a" stroke-width="1.5"/>
<text x="1143.15" y="310.00" font-size="18.87" text-anchor="start" fill="#1a1a1a" textLength="129.95" lengthAdjust="spacingAndGlyphs" stroke="#1a1a1a" stroke-width="0.3">fumarate (m+4)</text>
<text x="1115.45" y="346.10" font-size="16.54" text-anchor="start" fill="#1a1a1a" textLength="28.40" lengthAdjust="spacingAndGlyphs" stroke="#1a1a1a" stroke-width="0.3">n=3</text>
<line x1="1150.00" y1="480.25" x2="1180.00" y2="480.25" stroke="#979797" stroke-width="1.6"/>
<line x1="1150.00" y1="509.25" x2="1180.00" y2="509.25" stroke="#979797" stroke-width="1.6"/>
<line x1="1165.00" y1="480.25" x2="1165.00" y2="509.25" stroke="#979797" stroke-width="1.5"/>
<line x1="1135.00" y1="494.75" x2="1195.00" y2="494.75" stroke="#979797" stroke-width="1.7"/>
<circle cx="1165.00" cy="465.75" r="4.7" fill="#686868"/>
<circle cx="1171.50" cy="506.25" r="4.7" fill="#686868"/>
<circle cx="1158.50" cy="514.00" r="4.7" fill="#686868"/>
<line x1="1238.75" y1="387.00" x2="1268.75" y2="387.00" stroke="#2a2a2a" stroke-width="1.6"/>
<line x1="1238.75" y1="428.75" x2="1268.75" y2="428.75" stroke="#2a2a2a" stroke-width="1.6"/>
<line x1="1253.75" y1="387.00" x2="1253.75" y2="428.75" stroke="#2a2a2a" stroke-width="1.5"/>
<line x1="1223.75" y1="407.75" x2="1283.75" y2="407.75" stroke="#2a2a2a" stroke-width="1.7"/>
<rect x="1249.25" y="362.00" width="9" height="9" fill="#0a0a0a"/>
<rect x="1255.75" y="420.50" width="9" height="9" fill="#0a0a0a"/>
<rect x="1242.75" y="428.50" width="9" height="9" fill="#0a0a0a"/>
<text x="1252.50" y="353.05" font-size="13.32" text-anchor="middle" fill="#1a1a1a" font-weight="bold" stroke="#1a1a1a" stroke-width="0.3">*</text>
<line x1="73.25" y1="626.75" x2="73.25" y2="843.00" stroke="#1a1a1a" stroke-width="1.5"/>
<line x1="66.50" y1="842.25" x2="281.25" y2="842.25" stroke="#1a1a1a" stroke-width="1.5"/>
<line x1="66.50" y1="627.50" x2="73.25" y2="627.50" stroke="#1a1a1a" stroke-width="1.5"/>
<text x="64.25" y="633.70" font-size="15.98" text-anchor="end" fill="#1a1a1a" textLength="31.85" lengthAdjust="spacingAndGlyphs" stroke="#1a1a1a" stroke-width="0.3">0.55</text>
<line x1="66.50" y1="663.29" x2="73.25" y2="663.29" stroke="#1a1a1a" stroke-width="1.5"/>
<text x="64.25" y="669.49" font-size="15.98" text-anchor="end" fill="#1a1a1a" textLength="31.85" lengthAdjust="spacingAndGlyphs" stroke="#1a1a1a" stroke-width="0.3">0.50</text>
<line x1="66.50" y1="699.08" x2="73.25" y2="699.08" stroke="#1a1a1a" stroke-width="1.5"/>
<text x="64.25" y="705.28" font-size="15.98" text-anchor="end" fill="#1a1a1a" textLength="31.85" lengthAdjust="spacingAndGlyphs" stroke="#1a1a1a" stroke-width="0.3">0.45</text>
<line x1="66.50" y1="734.88" x2="73.25" y2="734.88" stroke="#1a1a1a" stroke-width="1.5"/>
<text x="64.25" y="741.08" font-size="15.98" text-anchor="end" fill="#1a1a1a" textLength="31.85" lengthAdjust="spacingAndGlyphs" stroke="#1a1a1a" stroke-width="0.3">0.40</text>
<line x1="66.50" y1="770.67" x2="73.25" y2="770.67" stroke="#1a1a1a" stroke-width="1.5"/>
<text x="64.25" y="776.87" font-size="15.98" text-anchor="end" fill="#1a1a1a" textLength="31.85" lengthAdjust="spacingAndGlyphs" stroke="#1a1a1a" stroke-width="0.3">0.35</text>
<line x1="66.50" y1="806.46" x2="73.25" y2="806.46" stroke="#1a1a1a" stroke-width="1.5"/>
<text x="64.25" y="812.66" font-size="15.98" text-anchor="end" fill="#1a1a1a" textLength="31.85" lengthAdjust="spacingAndGlyphs" stroke="#1a1a1a" stroke-width="0.3">0.30</text>
<text x="64.25" y="848.45" font-size="15.98" text-anchor="end" fill="#1a1a1a" textLength="31.85" lengthAdjust="spacingAndGlyphs" stroke="#1a1a1a" stroke-width="0.3">0.25</text>
<line x1="132.50" y1="842.25" x2="132.50" y2="849.25" stroke="#1a1a1a" stroke-width="1.5"/>
<line x1="220.25" y1="842.25" x2="220.25" y2="849.25" stroke="#1a1a1a" stroke-width="1.5"/>
<text x="121.40" y="595.50" font-size="18.87" text-anchor="start" fill="#1a1a1a" textLength="108.70" lengthAdjust="spacingAndGlyphs" stroke="#1a1a1a" stroke-width="0.3">malate (m+4)</text>
<text x="82.95" y="631.10" font-size="16.54" text-anchor="start" fill="#1a1a1a" textLength="28.40" lengthAdjust="spacingAndGlyphs" stroke="#1a1a1a" stroke-width="0.3">n=3</text>
<line x1="117.50" y1="806.25" x2="147.50" y2="806.25" stroke="#979797" stroke-width="1.6"/>
<line x1="117.50" y1="811.00" x2="147.50" y2="811.00" stroke="#979797" stroke-width="1.6"/>
<line x1="132.50" y1="806.25" x2="132.50" y2="811.00" stroke="#979797" stroke-width="1.5"/>
<line x1="102.50" y1="808.75" x2="162.00" y2="808.75" stroke="#979797" stroke-width="1.7"/>
<circle cx="119.25" cy="803.75" r="4.7" fill="#686868"/>
<circle cx="145.00" cy="808.75" r="4.7" fill="#686868"/>
<circle cx="132.00" cy="813.75" r="4.7" fill="#686868"/>
<line x1="205.75" y1="681.50" x2="235.75" y2="681.50" stroke="#2a2a2a" stroke-width="1.6"/>
<line x1="205.75" y1="726.00" x2="235.75" y2="726.00" stroke="#2a2a2a" stroke-width="1.6"/>
<line x1="220.75" y1="681.50" x2="220.75" y2="726.00" stroke="#2a2a2a" stroke-width="1.5"/>
<line x1="191.25" y1="703.75" x2="250.75" y2="703.75" stroke="#2a2a2a" stroke-width="1.7"/>
<rect x="216.25" y="668.00" width="9" height="9" fill="#0a0a0a"/>
<rect x="216.25" y="689.25" width="9" height="9" fill="#0a0a0a"/>
<rect x="216.25" y="742.00" width="9" height="9" fill="#0a0a0a"/>
<text x="220.00" y="659.30" font-size="13.32" text-anchor="middle" fill="#1a1a1a" font-weight="bold" stroke="#1a1a1a" stroke-width="0.3">*</text>
<line x1="331.00" y1="621.25" x2="331.00" y2="838.00" stroke="#1a1a1a" stroke-width="1.5"/>
<line x1="324.25" y1="837.25" x2="538.75" y2="837.25" stroke="#1a1a1a" stroke-width="1.5"/>
<line x1="324.25" y1="622.00" x2="331.00" y2="622.00" stroke="#1a1a1a" stroke-width="1.5"/>
<text x="322.00" y="628.20" font-size="15.98" text-anchor="end" fill="#1a1a1a" textLength="31.85" lengthAdjust="spacingAndGlyphs" stroke="#1a1a1a" stroke-width="0.3">0.35</text>
<line x1="324.25" y1="675.81" x2="331.00" y2="675.81" stroke="#1a1a1a" stroke-width="1.5"/>
<text x="322.00" y="682.01" font-size="15.98" text-anchor="end" fill="#1a1a1a" textLength="31.85" lengthAdjust="spacingAndGlyphs" stroke="#1a1a1a" stroke-width="0.3">0.30</text>
<line x1="324.25" y1="729.62" x2="331.00" y2="729.62" stroke="#1a1a1a" stroke-width="1.5"/>
<text x="322.00" y="735.83" font-size="15.98" text-anchor="end" fill="#1a1a1a" textLength="31.85" lengthAdjust="spacingAndGlyphs" stroke="#1a1a1a" stroke-width="0.3">0.25</text>
<line x1="324.25" y1="783.44" x2="331.00" y2="783.44" stroke="#1a1a1a" stroke-width="1.5"/>
<text x="322.00" y="789.64" font-size="15.98" text-anchor="end" fill="#1a1a1a" textLength="31.85" lengthAdjust="spacingAndGlyphs" stroke="#1a1a1a" stroke-width="0.3">0.20</text>
<text x="322.00" y="843.45" font-size="15.98" text-anchor="end" fill="#1a1a1a" textLength="31.85" lengthAdjust="spacingAndGlyphs" stroke="#1a1a1a" stroke-width="0.3">0.15</text>
<line x1="390.00" y1="837.25" x2="390.00" y2="844.25" stroke="#1a1a1a" stroke-width="1.5"/>
<line x1="477.50" y1="837.25" x2="477.50" y2="844.25" stroke="#1a1a1a" stroke-width="1.5"/>
<text x="366.40" y="589.25" font-size="18.87" text-anchor="start" fill="#1a1a1a" textLength="132.95" lengthAdjust="spacingAndGlyphs" stroke="#1a1a1a" stroke-width="0.3">aspartate (m+4)</text>
<text x="340.45" y="626.10" font-size="16.54" text-anchor="start" fill="#1a1a1a" textLength="28.40" lengthAdjust="spacingAndGlyphs" stroke="#1a1a1a" stroke-width="0.3">n=3</text>
<line x1="374.50" y1="748.75" x2="404.25" y2="748.75" stroke="#979797" stroke-width="1.6"/>
<line x1="374.50" y1="769.25" x2="404.25" y2="769.25" stroke="#979797" stroke-width="1.6"/>
<line x1="389.38" y1="748.75" x2="389.38" y2="769.25" stroke="#979797" stroke-width="1.5"/>
<line x1="360.00" y1="758.75" x2="419.25" y2="758.75" stroke="#979797" stroke-width="1.7"/>
<circle cx="390.00" cy="739.50" r="4.7" fill="#686868"/>
<circle cx="396.25" cy="764.25" r="4.7" fill="#686868"/>
<circle cx="383.00" cy="773.25" r="4.7" fill="#686868"/>
<line x1="463.75" y1="665.50" x2="493.25" y2="665.50" stroke="#2a2a2a" stroke-width="1.6"/>
<line x1="463.75" y1="681.50" x2="493.25" y2="681.50" stroke="#2a2a2a" stroke-width="1.6"/>
<line x1="478.50" y1="665.50" x2="478.50" y2="681.50" stroke="#2a2a2a" stroke-width="1.5"/>
<line x1="448.75" y1="673.25" x2="508.25" y2="673.25" stroke="#2a2a2a" stroke-width="1.7"/>
<rect x="467.50" y="658.00" width="9" height="9" fill="#0a0a0a"/>
<rect x="480.50" y="663.00" width="9" height="9" fill="#0a0a0a"/>
<rect x="473.75" y="685.00" width="9" height="9" fill="#0a0a0a"/>
<text x="476.25" y="650.05" font-size="13.32" text-anchor="middle" fill="#1a1a1a" textLength="13.80" lengthAdjust="spacingAndGlyphs" font-weight="bold" stroke="#1a1a1a" stroke-width="0.3">**</text>
<line x1="590.00" y1="619.75" x2="590.00" y2="838.00" stroke="#1a1a1a" stroke-width="1.5"/>
<line x1="583.25" y1="837.25" x2="797.00" y2="837.25" stroke="#1a1a1a" stroke-width="1.5"/>
<line x1="583.25" y1="620.50" x2="590.00" y2="620.50" stroke="#1a1a1a" stroke-width="1.5"/>
<text x="581.00" y="626.70" font-size="15.98" text-anchor="end" fill="#1a1a1a" textLength="31.85" lengthAdjust="spacingAndGlyphs" stroke="#1a1a1a" stroke-width="0.3">0.25</text>
<line x1="583.25" y1="692.75" x2="590.00" y2="692.75" stroke="#1a1a1a" stroke-width="1.5"/>
<text x="581.00" y="698.95" font-size="15.98" text-anchor="end" fill="#1a1a1a" textLength="31.85" lengthAdjust="spacingAndGlyphs" stroke="#1a1a1a" stroke-width="0.3">0.20</text>
<line x1="583.25" y1="765.00" x2="590.00" y2="765.00" stroke="#1a1a1a" stroke-width="1.5"/>
<text x="581.00" y="771.20" font-size="15.98" text-anchor="end" fill="#1a1a1a" textLength="31.85" lengthAdjust="spacingAndGlyphs" stroke="#1a1a1a" stroke-width="0.3">0.15</text>
<text x="581.00" y="843.45" font-size="15.98" text-anchor="end" fill="#1a1a1a" textLength="31.85" lengthAdjust="spacingAndGlyphs" stroke="#1a1a1a" stroke-width="0.3">0.10</text>
<line x1="649.25" y1="837.25" x2="649.25" y2="844.25" stroke="#1a1a1a" stroke-width="1.5"/>
<line x1="737.00" y1="837.25" x2="737.00" y2="844.25" stroke="#1a1a1a" stroke-width="1.5"/>
<text x="638.15" y="589.25" font-size="18.87" text-anchor="start" fill="#1a1a1a" textLength="106.95" lengthAdjust="spacingAndGlyphs" stroke="#1a1a1a" stroke-width="0.3">citrate (m+4)</text>
<text x="599.20" y="625.60" font-size="16.54" text-anchor="start" fill="#1a1a1a" textLength="28.40" lengthAdjust="spacingAndGlyphs" stroke="#1a1a1a" stroke-width="0.3">n=3</text>
<line x1="633.75" y1="739.00" x2="663.00" y2="739.00" stroke="#979797" stroke-width="1.6"/>
<line x1="633.75" y1="764.75" x2="663.00" y2="764.75" stroke="#979797" stroke-width="1.6"/>
<line x1="648.38" y1="739.00" x2="648.38" y2="764.75" stroke="#979797" stroke-width="1.5"/>
<line x1="618.75" y1="751.50" x2="678.00" y2="751.50" stroke="#979797" stroke-width="1.7"/>
<circle cx="648.75" cy="727.50" r="4.7" fill="#686868"/>
<circle cx="655.00" cy="758.75" r="4.7" fill="#686868"/>
<circle cx="642.00" cy="770.00" r="4.7" fill="#686868"/>
<line x1="722.50" y1="648.75" x2="752.00" y2="648.75" stroke="#2a2a2a" stroke-width="1.6"/>
<line x1="722.50" y1="667.75" x2="752.00" y2="667.75" stroke="#2a2a2a" stroke-width="1.6"/>
<line x1="737.25" y1="648.75" x2="737.25" y2="667.75" stroke="#2a2a2a" stroke-width="1.5"/>
<line x1="707.50" y1="658.50" x2="767.00" y2="658.50" stroke="#2a2a2a" stroke-width="1.7"/>
<rect x="726.25" y="642.50" width="9" height="9" fill="#0a0a0a"/>
<rect x="739.25" y="647.50" width="9" height="9" fill="#0a0a0a"/>
<rect x="732.75" y="672.50" width="9" height="9" fill="#0a0a0a"/>
<text x="737.50" y="635.05" font-size="13.32" text-anchor="middle" fill="#1a1a1a" textLength="13.80" lengthAdjust="spacingAndGlyphs" font-weight="bold" stroke="#1a1a1a" stroke-width="0.3">**</text>
<line x1="849.25" y1="621.25" x2="849.25" y2="838.00" stroke="#1a1a1a" stroke-width="1.5"/>
<line x1="842.50" y1="837.25" x2="1057.40" y2="837.25" stroke="#1a1a1a" stroke-width="1.5"/>
<line x1="842.50" y1="622.00" x2="849.25" y2="622.00" stroke="#1a1a1a" stroke-width="1.5"/>
<text x="840.25" y="628.20" font-size="15.98" text-anchor="end" fill="#1a1a1a" textLength="31.85" lengthAdjust="spacingAndGlyphs" stroke="#1a1a1a" stroke-width="0.3">0.35</text>
<line x1="842.50" y1="693.75" x2="849.25" y2="693.75" stroke="#1a1a1a" stroke-width="1.5"/>
<text x="840.25" y="699.95" font-size="15.98" text-anchor="end" fill="#1a1a1a" textLength="31.85" lengthAdjust="spacingAndGlyphs" stroke="#1a1a1a" stroke-width="0.3">0.30</text>
<line x1="842.50" y1="765.50" x2="849.25" y2="765.50" stroke="#1a1a1a" stroke-width="1.5"/>
<text x="840.25" y="771.70" font-size="15.98" text-anchor="end" fill="#1a1a1a" textLength="31.85" lengthAdjust="spacingAndGlyphs" stroke="#1a1a1a" stroke-width="0.3">0.25</text>
<text x="840.25" y="843.45" font-size="15.98" text-anchor="end" fill="#1a1a1a" textLength="31.85" lengthAdjust="spacingAndGlyphs" stroke="#1a1a1a" stroke-width="0.3">0.20</text>
<line x1="907.60" y1="837.25" x2="907.60" y2="844.25" stroke="#1a1a1a" stroke-width="1.5"/>
<line x1="995.60" y1="837.25" x2="995.60" y2="844.25" stroke="#1a1a1a" stroke-width="1.5"/>
<text x="895.65" y="589.25" font-size="18.87" text-anchor="start" fill="#1a1a1a" textLength="111.20" lengthAdjust="spacingAndGlyphs" stroke="#1a1a1a" stroke-width="0.3">proline (m+5)</text>
<text x="858.45" y="626.10" font-size="16.54" text-anchor="start" fill="#1a1a1a" textLength="28.40" lengthAdjust="spacingAndGlyphs" stroke="#1a1a1a" stroke-width="0.3">n=3</text>
<line x1="892.50" y1="733.00" x2="922.00" y2="733.00" stroke="#979797" stroke-width="1.6"/>
<line x1="892.50" y1="777.00" x2="922.00" y2="777.00" stroke="#979797" stroke-width="1.6"/>
<line x1="907.25" y1="733.00" x2="907.25" y2="777.00" stroke="#979797" stroke-width="1.5"/>
<line x1="877.50" y1="755.00" x2="937.00" y2="755.00" stroke="#979797" stroke-width="1.7"/>
<circle cx="907.50" cy="711.50" r="4.7" fill="#686868"/>
<circle cx="914.00" cy="774.75" r="4.7" fill="#686868"/>
<circle cx="900.75" cy="780.00" r="4.7" fill="#686868"/>
<line x1="981.75" y1="665.50" x2="1011.25" y2="665.50" stroke="#2a2a2a" stroke-width="1.6"/>
<line x1="981.75" y1="677.00" x2="1011.25" y2="677.00" stroke="#2a2a2a" stroke-width="1.6"/>
<line x1="996.50" y1="665.50" x2="996.50" y2="677.00" stroke="#2a2a2a" stroke-width="1.5"/>
<line x1="966.75" y1="671.25" x2="1026.25" y2="671.25" stroke="#2a2a2a" stroke-width="1.7"/>
<rect x="991.75" y="656.00" width="9" height="9" fill="#0a0a0a"/>
<rect x="998.50" y="667.50" width="9" height="9" fill="#0a0a0a"/>
<rect x="985.25" y="677.25" width="9" height="9" fill="#0a0a0a"/>
<text x="964.90" y="648.75" font-size="16.1" text-anchor="start" fill="#1a1a1a" textLength="59.95" lengthAdjust="spacingAndGlyphs" stroke="#1a1a1a" stroke-width="0.3">p = 0.05</text>
<text x="111.9" y="306.2" font-size="18.87" fill="#1a1a1a" stroke="#1a1a1a" stroke-width="0.3" textLength="132.6" lengthAdjust="spacingAndGlyphs">glutamine (<tspan font-size="12.77" dy="-6.6">13</tspan><tspan dy="6.6">C</tspan><tspan font-size="12.77" dy="4">5</tspan><tspan dy="-4">)</tspan></text>
<text transform="translate(18.3,529.3) rotate(-90)" font-size="19.76" fill="#1a1a1a" stroke="#1a1a1a" stroke-width="0.3" textLength="173" lengthAdjust="spacingAndGlyphs">relative abundance</text>
<circle cx="1080" cy="631" r="8.9" fill="#7f7f7f"/>
<rect x="1071.2" y="656.2" width="18.8" height="18.5" fill="#0a0a0a"/>
<text x="1100.60" y="637.80" font-size="20.54" text-anchor="start" fill="#1a1a1a" textLength="132.00" lengthAdjust="spacingAndGlyphs" stroke="#1a1a1a" stroke-width="0.3">MCF-7/empty</text>
<text x="1100.60" y="673.10" font-size="20.54" text-anchor="start" fill="#1a1a1a" textLength="164.00" lengthAdjust="spacingAndGlyphs" stroke="#1a1a1a" stroke-width="0.3">MCF-7/UGCG OE</text>
<rect x="1609.8" y="15.3" width="21" height="14.8" rx="1" fill="#fff" stroke="#555" stroke-width="1.6"/>
<rect x="1608.9" y="37.6" width="21.7" height="15.4" fill="#363636"/>
<text x="1643.50" y="29.50" font-size="18.65" text-anchor="start" fill="#1a1a1a" textLength="110.30" lengthAdjust="spacingAndGlyphs" stroke="#1a1a1a" stroke-width="0.3">MCF-7/empty</text>
<text x="1643.50" y="52.00" font-size="18.65" text-anchor="start" fill="#1a1a1a" textLength="132.80" lengthAdjust="spacingAndGlyphs" stroke="#1a1a1a" stroke-width="0.3">MCF-7/UGCG OE</text>
<line x1="1457.25" y1="65.65" x2="1457.25" y2="308.75" stroke="#4a4a4a" stroke-width="1.5"/>
<line x1="1451.50" y1="308.75" x2="1766.75" y2="308.75" stroke="#4a4a4a" stroke-width="1.5"/>
<line x1="1451.25" y1="66.25" x2="1457.25" y2="66.25" stroke="#4a4a4a" stroke-width="1.4"/>
<text x="1448.60" y="73.15" font-size="19.09" text-anchor="end" fill="#1a1a1a" textLength="69.44" lengthAdjust="spacingAndGlyphs" stroke="#1a1a1a" stroke-width="0.3">1000000</text>
<line x1="1453.45" y1="94.50" x2="1457.25" y2="94.50" stroke="#4a4a4a" stroke-width="1.0"/>
<line x1="1453.45" y1="87.38" x2="1457.25" y2="87.38" stroke="#4a4a4a" stroke-width="1.0"/>
<line x1="1453.45" y1="82.33" x2="1457.25" y2="82.33" stroke="#4a4a4a" stroke-width="1.0"/>
<line x1="1453.45" y1="78.42" x2="1457.25" y2="78.42" stroke="#4a4a4a" stroke-width="1.0"/>
<line x1="1453.45" y1="75.22" x2="1457.25" y2="75.22" stroke="#4a4a4a" stroke-width="1.0"/>
<line x1="1453.45" y1="72.51" x2="1457.25" y2="72.51" stroke="#4a4a4a" stroke-width="1.0"/>
<line x1="1453.45" y1="70.17" x2="1457.25" y2="70.17" stroke="#4a4a4a" stroke-width="1.0"/>
<line x1="1453.45" y1="68.10" x2="1457.25" y2="68.10" stroke="#4a4a4a" stroke-width="1.0"/>
<line x1="1451.25" y1="106.67" x2="1457.25" y2="106.67" stroke="#4a4a4a" stroke-width="1.4"/>
<text x="1448.60" y="113.57" font-size="19.09" text-anchor="end" fill="#1a1a1a" textLength="59.52" lengthAdjust="spacingAndGlyphs" stroke="#1a1a1a" stroke-width="0.3">100000</text>
<line x1="1453.45" y1="134.92" x2="1457.25" y2="134.92" stroke="#4a4a4a" stroke-width="1.0"/>
<line x1="1453.45" y1="127.80" x2="1457.25" y2="127.80" stroke="#4a4a4a" stroke-width="1.0"/>
<line x1="1453.45" y1="122.75" x2="1457.25" y2="122.75" stroke="#4a4a4a" stroke-width="1.0"/>
<line x1="1453.45" y1="118.83" x2="1457.25" y2="118.83" stroke="#4a4a4a" stroke-width="1.0"/>
<line x1="1453.45" y1="115.63" x2="1457.25" y2="115.63" stroke="#4a4a4a" stroke-width="1.0"/>
<line x1="1453.45" y1="112.93" x2="1457.25" y2="112.93" stroke="#4a4a4a" stroke-width="1.0"/>
<line x1="1453.45" y1="110.58" x2="1457.25" y2="110.58" stroke="#4a4a4a" stroke-width="1.0"/>
<line x1="1453.45" y1="108.52" x2="1457.25" y2="108.52" stroke="#4a4a4a" stroke-width="1.0"/>
<line x1="1451.25" y1="147.08" x2="1457.25" y2="147.08" stroke="#4a4a4a" stroke-width="1.4"/>
<text x="1448.60" y="153.98" font-size="19.09" text-anchor="end" fill="#1a1a1a" textLength="49.60" lengthAdjust="spacingAndGlyphs" stroke="#1a1a1a" stroke-width="0.3">10000</text>
<line x1="1453.45" y1="175.33" x2="1457.25" y2="175.33" stroke="#4a4a4a" stroke-width="1.0"/>
<line x1="1453.45" y1="168.22" x2="1457.25" y2="168.22" stroke="#4a4a4a" stroke-width="1.0"/>
<line x1="1453.45" y1="163.17" x2="1457.25" y2="163.17" stroke="#4a4a4a" stroke-width="1.0"/>
<line x1="1453.45" y1="159.25" x2="1457.25" y2="159.25" stroke="#4a4a4a" stroke-width="1.0"/>
<line x1="1453.45" y1="156.05" x2="1457.25" y2="156.05" stroke="#4a4a4a" stroke-width="1.0"/>
<line x1="1453.45" y1="153.34" x2="1457.25" y2="153.34" stroke="#4a4a4a" stroke-width="1.0"/>
<line x1="1453.45" y1="151.00" x2="1457.25" y2="151.00" stroke="#4a4a4a" stroke-width="1.0"/>
<line x1="1453.45" y1="148.93" x2="1457.25" y2="148.93" stroke="#4a4a4a" stroke-width="1.0"/>
<line x1="1451.25" y1="187.50" x2="1457.25" y2="187.50" stroke="#4a4a4a" stroke-width="1.4"/>
<text x="1448.60" y="194.40" font-size="19.09" text-anchor="end" fill="#1a1a1a" textLength="39.68" lengthAdjust="spacingAndGlyphs" stroke="#1a1a1a" stroke-width="0.3">1000</text>
<line x1="1453.45" y1="215.75" x2="1457.25" y2="215.75" stroke="#4a4a4a" stroke-width="1.0"/>
<line x1="1453.45" y1="208.63" x2="1457.25" y2="208.63" stroke="#4a4a4a" stroke-width="1.0"/>
<line x1="1453.45" y1="203.58" x2="1457.25" y2="203.58" stroke="#4a4a4a" stroke-width="1.0"/>
<line x1="1453.45" y1="199.67" x2="1457.25" y2="199.67" stroke="#4a4a4a" stroke-width="1.0"/>
<line x1="1453.45" y1="196.47" x2="1457.25" y2="196.47" stroke="#4a4a4a" stroke-width="1.0"/>
<line x1="1453.45" y1="193.76" x2="1457.25" y2="193.76" stroke="#4a4a4a" stroke-width="1.0"/>
<line x1="1453.45" y1="191.42" x2="1457.25" y2="191.42" stroke="#4a4a4a" stroke-width="1.0"/>
<line x1="1453.45" y1="189.35" x2="1457.25" y2="189.35" stroke="#4a4a4a" stroke-width="1.0"/>
<line x1="1451.25" y1="227.92" x2="1457.25" y2="227.92" stroke="#4a4a4a" stroke-width="1.4"/>
<text x="1448.60" y="234.82" font-size="19.09" text-anchor="end" fill="#1a1a1a" textLength="29.76" lengthAdjust="spacingAndGlyphs" stroke="#1a1a1a" stroke-width="0.3">100</text>
<line x1="1453.45" y1="256.17" x2="1457.25" y2="256.17" stroke="#4a4a4a" stroke-width="1.0"/>
<line x1="1453.45" y1="249.05" x2="1457.25" y2="249.05" stroke="#4a4a4a" stroke-width="1.0"/>
<line x1="1453.45" y1="244.00" x2="1457.25" y2="244.00" stroke="#4a4a4a" stroke-width="1.0"/>
<line x1="1453.45" y1="240.08" x2="1457.25" y2="240.08" stroke="#4a4a4a" stroke-width="1.0"/>
<line x1="1453.45" y1="236.88" x2="1457.25" y2="236.88" stroke="#4a4a4a" stroke-width="1.0"/>
<line x1="1453.45" y1="234.18" x2="1457.25" y2="234.18" stroke="#4a4a4a" stroke-width="1.0"/>
<line x1="1453.45" y1="231.83" x2="1457.25" y2="231.83" stroke="#4a4a4a" stroke-width="1.0"/>
<line x1="1453.45" y1="229.77" x2="1457.25" y2="229.77" stroke="#4a4a4a" stroke-width="1.0"/>
<line x1="1451.25" y1="268.33" x2="1457.25" y2="268.33" stroke="#4a4a4a" stroke-width="1.4"/>
<text x="1448.60" y="275.23" font-size="19.09" text-anchor="end" fill="#1a1a1a" textLength="19.84" lengthAdjust="spacingAndGlyphs" stroke="#1a1a1a" stroke-width="0.3">10</text>
<line x1="1453.45" y1="296.58" x2="1457.25" y2="296.58" stroke="#4a4a4a" stroke-width="1.0"/>
<line x1="1453.45" y1="289.47" x2="1457.25" y2="289.47" stroke="#4a4a4a" stroke-width="1.0"/>
<line x1="1453.45" y1="284.42" x2="1457.25" y2="284.42" stroke="#4a4a4a" stroke-width="1.0"/>
<line x1="1453.45" y1="280.50" x2="1457.25" y2="280.50" stroke="#4a4a4a" stroke-width="1.0"/>
<line x1="1453.45" y1="277.30" x2="1457.25" y2="277.30" stroke="#4a4a4a" stroke-width="1.0"/>
<line x1="1453.45" y1="274.59" x2="1457.25" y2="274.59" stroke="#4a4a4a" stroke-width="1.0"/>
<line x1="1453.45" y1="272.25" x2="1457.25" y2="272.25" stroke="#4a4a4a" stroke-width="1.0"/>
<line x1="1453.45" y1="270.18" x2="1457.25" y2="270.18" stroke="#4a4a4a" stroke-width="1.0"/>
<text x="1448.60" y="315.65" font-size="19.09" text-anchor="end" fill="#1a1a1a" textLength="9.92" lengthAdjust="spacingAndGlyphs" stroke="#1a1a1a" stroke-width="0.3">1</text>
<text x="1464.50" y="72.50" font-size="18.32" text-anchor="start" fill="#1a1a1a" textLength="29.80" lengthAdjust="spacingAndGlyphs" stroke="#1a1a1a" stroke-width="0.3">n=3</text>
<line x1="1504.75" y1="143.00" x2="1504.75" y2="146.50" stroke="#4a4a4a" stroke-width="1.5"/>
<line x1="1493.25" y1="143.00" x2="1516.25" y2="143.00" stroke="#4a4a4a" stroke-width="1.6"/>
<rect x="1481.80" y="147.30" width="45.90" height="161.45" fill="#fff" stroke="#4a4a4a" stroke-width="1.6"/>
<line x1="1575.75" y1="151.75" x2="1575.75" y2="156.80" stroke="#4a4a4a" stroke-width="1.5"/>
<line x1="1564.25" y1="151.75" x2="1587.25" y2="151.75" stroke="#4a4a4a" stroke-width="1.6"/>
<rect x="1552.25" y="156.80" width="47.00" height="151.95" fill="#363636"/>
<line x1="1646.88" y1="170.00" x2="1646.88" y2="174.50" stroke="#4a4a4a" stroke-width="1.5"/>
<line x1="1635.38" y1="170.00" x2="1658.38" y2="170.00" stroke="#4a4a4a" stroke-width="1.6"/>
<rect x="1624.30" y="175.30" width="45.15" height="133.45" fill="#fff" stroke="#4a4a4a" stroke-width="1.6"/>
<line x1="1718.25" y1="195.25" x2="1718.25" y2="198.80" stroke="#4a4a4a" stroke-width="1.5"/>
<line x1="1706.75" y1="195.25" x2="1729.75" y2="195.25" stroke="#4a4a4a" stroke-width="1.6"/>
<rect x="1694.75" y="198.80" width="47.00" height="109.95" fill="#363636"/>
<line x1="1451.50" y1="308.75" x2="1766.75" y2="308.75" stroke="#4a4a4a" stroke-width="1.5"/>
<path d="M1509.00 83.75 V79.75 Q1509.00 78.25 1510.50 78.25 H1648.25 Q1649.75 78.25 1649.75 79.75 V83.75" fill="none" stroke="#555" stroke-width="1.3"/>
<text x="1580.25" y="78.60" font-size="18.87" text-anchor="middle" fill="#1a1a1a" font-weight="bold" stroke="#1a1a1a" stroke-width="0.3">*</text>
<path d="M1581.75 117.05 V112.75 Q1581.75 111.25 1583.25 111.25 H1713.25 Q1714.75 111.25 1714.75 112.75 V117.05" fill="none" stroke="#555" stroke-width="1.3"/>
<text x="1651.25" y="110.35" font-size="18.87" text-anchor="middle" fill="#1a1a1a" font-weight="bold" stroke="#1a1a1a" stroke-width="0.3">*</text>
<path d="M1648.50 144.45 V139.75 Q1648.50 138.25 1650.00 138.25 H1714.50 Q1716.00 138.25 1716.00 139.75 V144.45" fill="none" stroke="#555" stroke-width="1.3"/>
<text x="1685.50" y="137.85" font-size="18.87" text-anchor="middle" fill="#1a1a1a" textLength="16.00" lengthAdjust="spacingAndGlyphs" font-weight="bold" stroke="#1a1a1a" stroke-width="0.3">**</text>
<line x1="1478.00" y1="321.75" x2="1597.25" y2="321.75" stroke="#4a4a4a" stroke-width="1.4"/>
<line x1="1625.25" y1="320.75" x2="1744.75" y2="320.75" stroke="#4a4a4a" stroke-width="1.4"/>
<text x="1515.30" y="350.70" font-size="17.32" text-anchor="start" fill="#1a1a1a" textLength="42.00" lengthAdjust="spacingAndGlyphs" stroke="#1a1a1a" stroke-width="0.3">ACC1</text>
<text x="1662.80" y="349.30" font-size="17.32" text-anchor="start" fill="#1a1a1a" textLength="42.60" lengthAdjust="spacingAndGlyphs" stroke="#1a1a1a" stroke-width="0.3">ACC2</text>
<text transform="translate(1349.2,294.2) rotate(-90)" font-size="17.32" fill="#1a1a1a" stroke="#1a1a1a" stroke-width="0.3" textLength="214.6" lengthAdjust="spacingAndGlyphs">basal ACC mRNA expression</text>
<text transform="translate(1374.6,260.4) rotate(-90)" font-size="17.32" fill="#1a1a1a" stroke="#1a1a1a" stroke-width="0.3" textLength="151" lengthAdjust="spacingAndGlyphs">[related to RPL37A]</text>
<line x1="1456.00" y1="399.80" x2="1456.00" y2="624.70" stroke="#111" stroke-width="1.5"/>
<line x1="1449.80" y1="624.70" x2="1795.20" y2="624.70" stroke="#111" stroke-width="1.5"/>
<line x1="1449.50" y1="400.50" x2="1456.00" y2="400.50" stroke="#111" stroke-width="1.5"/>
<text x="1447.30" y="407.40" font-size="18.32" text-anchor="end" fill="#1a1a1a" textLength="10.20" lengthAdjust="spacingAndGlyphs" stroke="#1a1a1a" stroke-width="0.3">8</text>
<line x1="1449.50" y1="456.55" x2="1456.00" y2="456.55" stroke="#111" stroke-width="1.5"/>
<text x="1447.30" y="463.45" font-size="18.32" text-anchor="end" fill="#1a1a1a" textLength="10.20" lengthAdjust="spacingAndGlyphs" stroke="#1a1a1a" stroke-width="0.3">6</text>
<line x1="1449.50" y1="512.60" x2="1456.00" y2="512.60" stroke="#111" stroke-width="1.5"/>
<text x="1447.30" y="519.50" font-size="18.32" text-anchor="end" fill="#1a1a1a" textLength="10.20" lengthAdjust="spacingAndGlyphs" stroke="#1a1a1a" stroke-width="0.3">4</text>
<line x1="1449.50" y1="568.65" x2="1456.00" y2="568.65" stroke="#111" stroke-width="1.5"/>
<text x="1447.30" y="575.55" font-size="18.32" text-anchor="end" fill="#1a1a1a" textLength="10.20" lengthAdjust="spacingAndGlyphs" stroke="#1a1a1a" stroke-width="0.3">2</text>
<text x="1447.30" y="631.60" font-size="18.32" text-anchor="end" fill="#1a1a1a" textLength="10.20" lengthAdjust="spacingAndGlyphs" stroke="#1a1a1a" stroke-width="0.3">0</text>
<text x="1467.00" y="406.30" font-size="18.32" text-anchor="start" fill="#1a1a1a" textLength="32.00" lengthAdjust="spacingAndGlyphs" stroke="#1a1a1a" stroke-width="0.3">n=5</text>
<line x1="1552.00" y1="624.70" x2="1552.00" y2="631.00" stroke="#111" stroke-width="1.5"/>
<line x1="1698.00" y1="624.70" x2="1698.00" y2="631.00" stroke="#111" stroke-width="1.5"/>
<line x1="1553.00" y1="491.75" x2="1553.00" y2="515.00" stroke="#444" stroke-width="1.7"/>
<line x1="1528.50" y1="491.75" x2="1577.25" y2="491.75" stroke="#444" stroke-width="1.9"/>
<rect x="1505.5" y="515" width="95" height="109.70" fill="#fff" stroke="#111" stroke-width="1.5"/>
<line x1="1697.75" y1="434.00" x2="1697.75" y2="447.00" stroke="#333" stroke-width="1.7"/>
<line x1="1674.00" y1="434.00" x2="1721.75" y2="434.00" stroke="#333" stroke-width="1.9"/>
<rect x="1649.7" y="446.2" width="96.6" height="178.50" fill="#000"/>
<line x1="1449.80" y1="624.70" x2="1795.20" y2="624.70" stroke="#111" stroke-width="1.5"/>
<text x="1696.75" y="423.90" font-size="13.88" text-anchor="middle" fill="#1a1a1a" font-weight="bold" stroke="#1a1a1a" stroke-width="0.3">*</text>
<text x="1491.20" y="653.00" font-size="18.65" text-anchor="start" fill="#1a1a1a" textLength="122.60" lengthAdjust="spacingAndGlyphs" stroke="#1a1a1a" stroke-width="0.3">MCF-7/empty</text>
<text x="1623.00" y="653.00" font-size="18.65" text-anchor="start" fill="#1a1a1a" textLength="148.60" lengthAdjust="spacingAndGlyphs" stroke="#1a1a1a" stroke-width="0.3">MCF-7/UGCG OE</text>
<text transform="translate(1366.7,609) rotate(-90)" font-size="17.32" fill="#1a1a1a" stroke="#1a1a1a" stroke-width="0.3" textLength="199.5" lengthAdjust="spacingAndGlyphs">ACC phospho/ACC total</text>
<text transform="translate(1393.6,624) rotate(-90)" font-size="17.32" fill="#1a1a1a" stroke="#1a1a1a" stroke-width="0.3" textLength="230.5" lengthAdjust="spacingAndGlyphs">protein concentration ratio</text>
<text transform="translate(1422.4,586.2) rotate(-90)" font-size="17.32" fill="#1a1a1a" stroke="#1a1a1a" stroke-width="0.3" textLength="154" lengthAdjust="spacingAndGlyphs">[related to Hsp90]</text>
<rect x="1396.6" y="667.6" width="355.4" height="38.6" fill="#e0e0e0"/>
<g clip-path="url(#c1)">
<rect x="1386" y="660" width="88" height="54" fill="#cbcbcb" filter="url(#b4)"/>
<rect x="1523" y="670" width="86" height="12" fill="#d7d7d7" filter="url(#b3)"/>
<rect x="1654" y="671" width="80" height="14" fill="#cdcdcd" filter="url(#b3)"/>
<path d="M1390 693.5 C1412 695.5 1440 694 1478 691.5" fill="none" stroke="#6a6a6a" stroke-width="15" stroke-linecap="round" filter="url(#b3)" opacity="0.75"/>
<path d="M1390 694 C1405 697.5 1428 697.5 1442 694.6 C1452 692.8 1464 693.8 1475 692.4" fill="none" stroke="#242424" stroke-width="9" stroke-linecap="butt" filter="url(#b2)"/>
<ellipse cx="1420" cy="696" rx="17" ry="3.6" fill="#1c1c1c" filter="url(#b2)" opacity="0.8"/>
<ellipse cx="1471" cy="693.5" rx="6.5" ry="3.8" fill="#1c1c1c" filter="url(#b2)" opacity="0.8"/>
<path d="M1524 685.6 C1545 683.8 1575 684 1594 686.6 C1600 687.6 1605 688.6 1609 688.8" fill="none" stroke="#454545" stroke-width="3.8" stroke-linecap="round" filter="url(#b0)"/>
<ellipse cx="1529" cy="686" rx="7" ry="2.3" fill="#333" filter="url(#b0)"/>
<ellipse cx="1603" cy="688.4" rx="7" ry="2.2" fill="#3c3c3c" filter="url(#b0)"/>
<path d="M1652 691 C1675 689.4 1700 689.8 1715 692.4 C1723 693.8 1728 695.4 1732 696" fill="none" stroke="#333" stroke-width="10" stroke-linecap="round" filter="url(#b1)" opacity="0.5"/>
<path d="M1652 691 C1675 689.4 1700 689.8 1715 692.4 C1723 693.8 1728 695.4 1732 696" fill="none" stroke="#020202" stroke-width="6.6" stroke-linecap="round" filter="url(#b0)"/>
<ellipse cx="1658" cy="691.2" rx="11" ry="4.3" fill="#020202" filter="url(#b1)"/>
<ellipse cx="1727" cy="695.2" rx="10" ry="4.3" fill="#020202" filter="url(#b1)" transform="rotate(12 1727 695.2)"/>
</g>
<rect x="1396.6" y="667.6" width="355.4" height="38.6" fill="none" stroke="#0a0a0a" stroke-width="1.7"/>
<rect x="1396.6" y="719.6" width="355.4" height="38.8" fill="#e2e2e2"/>
<g clip-path="url(#c2)">
<path d="M1511.8 740.6 C1515 734 1519 730.6 1524 730.6 C1534 731.4 1544 738 1553 739.4 C1562 740.6 1574 735.6 1583 735.8 C1592 736 1600 737.6 1604 739.6 C1609 742.2 1613 747 1615 749 C1605 749.6 1596 747.4 1588 747.6 C1576 748 1564 751.8 1553 751.6 C1541 751.2 1531 743.6 1511.8 740.6 Z" fill="#555" filter="url(#b2)"/>
<path d="M1643.5 747.4 C1646 741.4 1650 737.8 1656 737.4 C1680 736 1710 736 1724 737.2 C1731 738 1737 742.4 1740 748 C1725 749.6 1660 749.6 1643.5 747.4 Z" fill="#5a5a5a" filter="url(#b2)"/>
</g>
<rect x="1396.6" y="719.6" width="355.4" height="38.8" fill="none" stroke="#0a0a0a" stroke-width="1.7"/>
<text x="1758.80" y="700.00" font-size="18.2" text-anchor="start" fill="#1a1a1a" textLength="120.60" lengthAdjust="spacingAndGlyphs" stroke="#1a1a1a" stroke-width="0.3">ACC phospho</text>
<text x="1758.80" y="725.00" font-size="18.2" text-anchor="start" fill="#1a1a1a" textLength="136.00" lengthAdjust="spacingAndGlyphs" stroke="#1a1a1a" stroke-width="0.3">(265 - 288 kDa)</text>
<text x="1758.80" y="750.30" font-size="18.2" text-anchor="start" fill="#1a1a1a" textLength="55.60" lengthAdjust="spacingAndGlyphs" stroke="#1a1a1a" stroke-width="0.3">Hsp90</text>
<text x="1758.80" y="775.60" font-size="18.2" text-anchor="start" fill="#1a1a1a" textLength="75.20" lengthAdjust="spacingAndGlyphs" stroke="#1a1a1a" stroke-width="0.3">(90 kDa)</text>
</svg>
</body></html>
